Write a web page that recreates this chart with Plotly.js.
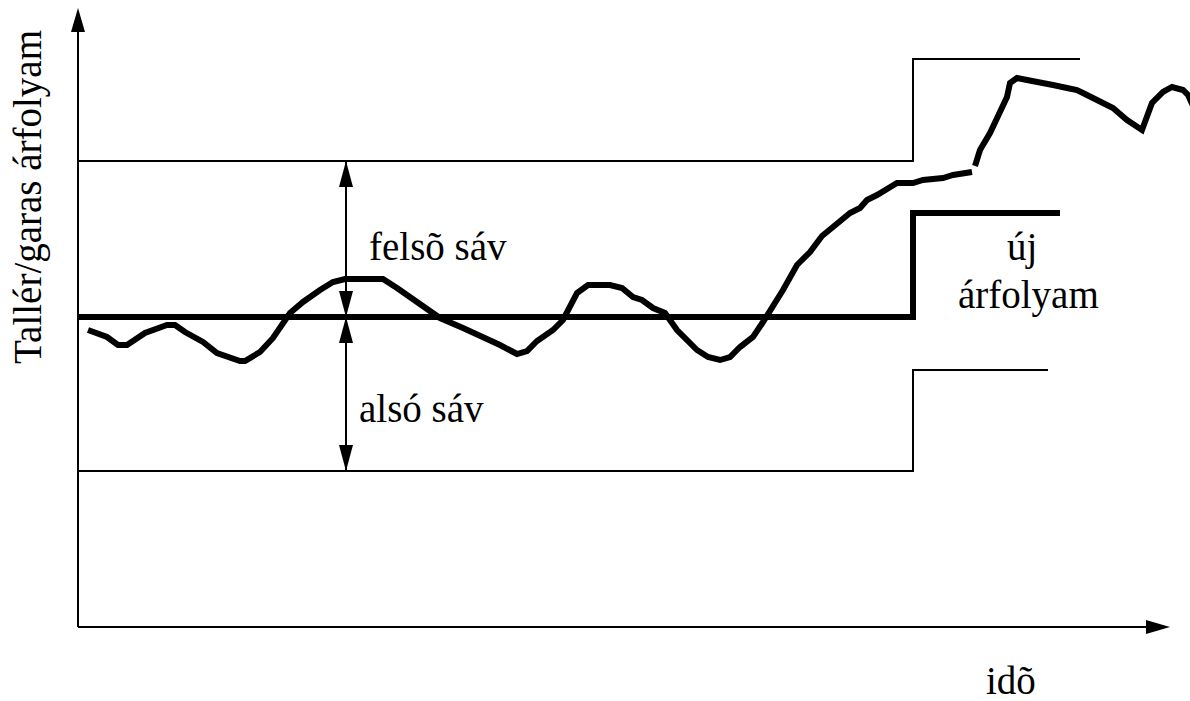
<!DOCTYPE html>
<html>
<head>
<meta charset="utf-8">
<script src="https://cdn.plot.ly/plotly-3.0.1.min.js"></script>
</head>
<body style="margin:0;background:#fff">
<div id="chart" style="width:1190px;height:701px"></div>
<script>
// ---- data (time units along x, rate units along y; origin at the axes' corner) ----
const rateTime = [10,29,40,49,67,89,97,107,125,139,162,167,182,195,212,225,242,255,267,305,319,342,362,385,409,422,439,449,459,475,485,499,510,532,544,555,564,575,587,599,619,630,642,652,662,675,685,695,705,719,732,744,762,772,782,789,799,819,835,845,865,875,894,
  null,
  897,902,912,920,929,932,939,949,962,975,989,999,1009,1022,1035,1049,1064,1074,1085,1094,1105,1110,1117];
const rateValue = [297,290,282,282,294,302,302,295,285,274,266,266,275,289,314,325,337,345,348,348,339,323,309,299,289,282,273,276,286,297,307,334,342,342,339,330,327,319,314,297,277,270,267,270,280,290,305,320,337,362,375,391,405,414,419,427,432,444,444,447,449,452,455,
  null,
  461,477,494,510,530,544,549,547,545,542,539,537,532,525,519,507,497,524,535,540,537,532,517];

const periodStart = 0;       // start of time axis
const devaluation = 835;     // moment of the parity change
const upperEnd = 1002;       // end of the new upper band line
const parityEnd = 982;       // end of the new parity line
const lowerEnd = 970;        // end of the new lower band line
const upperBand = [466, 568];   // old, new
const parity    = [310, 414];   // old, new
const lowerBand = [156, 257];   // old, new

const axisXMax = 1092, axisYMax = 619;
const bandArrowTime = 268;

const labels = {
  upper: 'felsõ sáv',
  lower: 'alsó sáv',
  newRate1: 'új',
  newRate2: 'árfolyam',
  xTitle: 'idõ',
  yTitle: 'Tallér/garas árfolyam'
};

// ---- build ----
function stepTrace(vals, end, width) {
  return {
    type: 'scatter', mode: 'lines',
    x: [periodStart, devaluation, devaluation, end],
    y: [vals[0], vals[0], vals[1], vals[1]],
    line: {color: '#000', width: width},
    hoverinfo: 'skip', showlegend: false
  };
}

const traces = [
  stepTrace(upperBand, upperEnd, 2),
  stepTrace(lowerBand, lowerEnd, 2),
  stepTrace(parity, parityEnd, 6),
  {
    type: 'scatter', mode: 'lines', x: rateTime, y: rateValue,
    connectgaps: false,
    line: {color: '#000', width: 6},
    hoverinfo: 'skip', showlegend: false
  }
];

const HEAD_LEN = 24, HEAD_HALF = 7;
function head(tx, ty, dx, dy, len, half) {
  const bx = tx - dx * len, by = ty - dy * len;
  const px = -dy * half, py = dx * half;
  return {
    type: 'path', xref: 'x', yref: 'y',
    path: `M${tx},${ty} L${bx + px},${by + py} L${bx - px},${by - py} Z`,
    fillcolor: '#000', line: {color: '#000', width: 0}
  };
}
function seg(x0, y0, x1, y1, w) {
  return {type: 'line', xref: 'x', yref: 'y', x0, y0, x1, y1, line: {color: '#000', width: w}};
}

const shapes = [
  seg(0, 0, 0, axisYMax - HEAD_LEN, 2),
  head(0, axisYMax, 0, 1, HEAD_LEN, HEAD_HALF),
  seg(0, 0, axisXMax - HEAD_LEN, 0, 2),
  head(axisXMax, 0, 1, 0, HEAD_LEN, HEAD_HALF),
  seg(bandArrowTime, lowerBand[0], bandArrowTime, upperBand[0], 2),
  head(bandArrowTime, upperBand[0], 0, 1, 26, 7),
  head(bandArrowTime, parity[0], 0, -1, 26, 7),
  head(bandArrowTime, parity[0], 0, 1, 26, 7),
  head(bandArrowTime, lowerBand[0], 0, -1, 26, 7)
];

function txt(text, x, y, extra) {
  return Object.assign({text: text, x: x, y: y, xref: 'x', yref: 'y', showarrow: false,
    font: {family: 'Times New Roman', size: 39, color: '#000'},
    xanchor: 'center', yanchor: 'middle'}, extra || {});
}
const annotations = [
  txt(labels.upper, 360, 381),
  txt(labels.lower, 343, 219),
  txt(labels.newRate1, 944, 380),
  txt(labels.newRate2, 950, 332),
  txt(labels.xTitle, 933, -53),
  txt(labels.yTitle, -50, 430, {textangle: -90})
];

const layout = {
  width: 1190, height: 701,
  margin: {l: 0, r: 0, t: 0, b: 0, pad: 0},
  paper_bgcolor: '#fff', plot_bgcolor: '#fff',
  xaxis: {range: [-78, 1112], visible: false, fixedrange: true},
  yaxis: {range: [-74, 627], visible: false, fixedrange: true},
  shapes: shapes, annotations: annotations, showlegend: false
};

Plotly.newPlot('chart', traces, layout, {displayModeBar: false});
</script>
</body>
</html>
